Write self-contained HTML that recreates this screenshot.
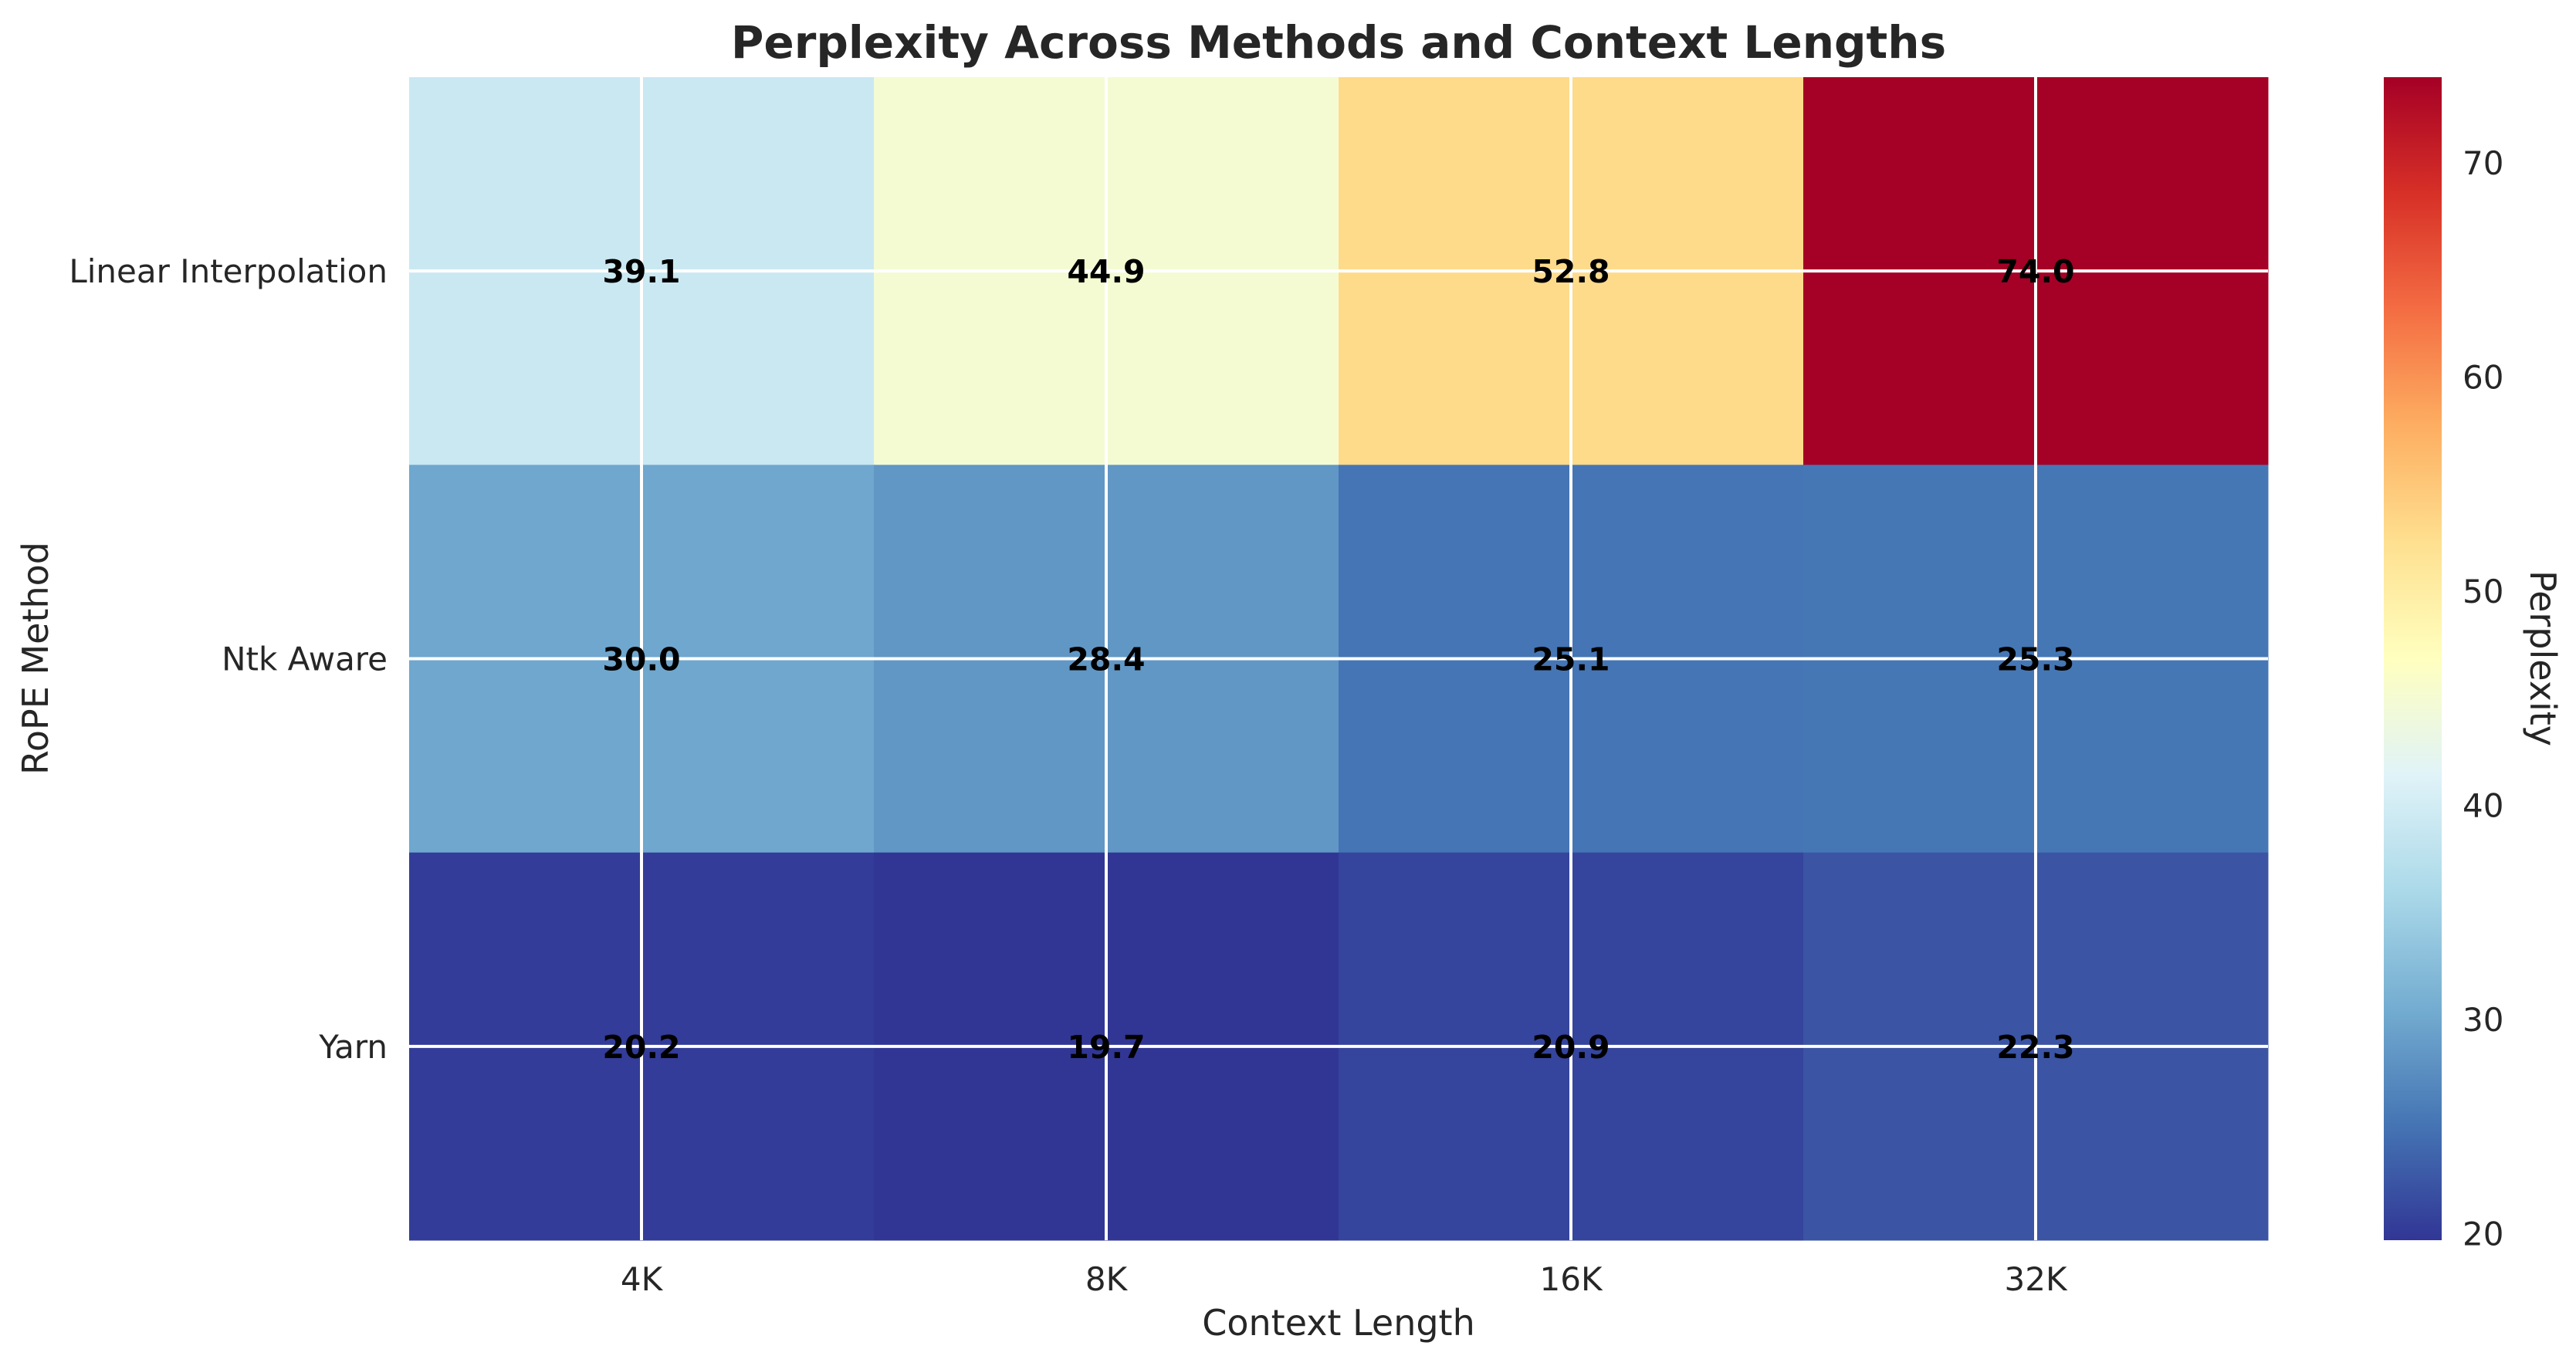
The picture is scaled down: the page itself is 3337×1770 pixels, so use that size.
<!DOCTYPE html>
<html><head><meta charset="utf-8"><style>body{margin:0;background:#fff}svg{display:block}text{font-family:"DejaVu Sans","Liberation Sans",sans-serif}</style></head>
<body>
<svg id="chart" width="3337" height="1770" viewBox="0 0 3337 1770" xmlns="http://www.w3.org/2000/svg">
<defs><linearGradient id="cbgrad" x1="0" y1="1" x2="0" y2="0"></linearGradient></defs>
<text x="1734" y="75" text-anchor="middle" font-size="58" font-weight="bold" fill="#262626">Perplexity Across Methods and Context Lengths</text>
<g id="cells"></g><g id="grid"></g><g id="vals"></g><g id="ticks"></g>
<text x="1734" y="1730" text-anchor="middle" font-size="46" fill="#262626">Context Length</text>
<text transform="translate(62,853) rotate(-90)" text-anchor="middle" font-size="46" fill="#262626">RoPE Method</text>
<rect x="3088" y="100" width="75" height="1507" fill="url(#cbgrad)"/>
<g id="cbticks"></g>
<text transform="translate(3278,853) rotate(90)" text-anchor="middle" font-size="46" fill="#262626">Perplexity</text>
</svg>
<script>
const categories = ["4K","8K","16K","32K"];
const methods = ["Linear Interpolation","Ntk Aware","Yarn"];
const linearVals = [39.1,44.9,52.8,74.0];
const ntkVals = [30.0,28.4,25.1,25.3];
const yarnVals = [20.2,19.7,20.9,22.3];
const cbTicks = [20,30,40,50,60,70];
const NS="http://www.w3.org/2000/svg";
const rows=[linearVals,ntkVals,yarnVals];
const all=rows.flat();
const vmin=Math.min(...all), vmax=Math.max(...all);
const L=530,R=2938,T=100,B=1607;
const cw=(R-L)/categories.length, rh=(B-T)/methods.length;
const xC=i=>L+cw*(i+0.5), yC=j=>T+rh*(j+0.5);
const stops=["#313695","#4575b4","#74add1","#abd9e9","#e0f3f8","#ffffbf","#fee090","#fdae61","#f46d43","#d73027","#a50026"];
function hex(h){return [1,3,5].map(k=>parseInt(h.substr(k,2),16));}
function cmap(v){let t=(v-vmin)/(vmax-vmin);t=Math.max(0,Math.min(1,t));const p=t*(stops.length-1);const i=Math.min(Math.floor(p),stops.length-2);const f=p-i;const a=hex(stops[i]),b=hex(stops[i+1]);return `rgb(${a.map((c,k)=>Math.round(c+(b[k]-c)*f)).join(",")})`;}
function mk(tag,attrs,parent,txt){const e=document.createElementNS(NS,tag);for(const k in attrs)e.setAttribute(k,attrs[k]);if(txt!==undefined)e.textContent=txt;document.getElementById(parent).appendChild(e);return e;}
const g=document.getElementById('cbgrad');
stops.forEach((s,i)=>{const st=document.createElementNS(NS,'stop');st.setAttribute('offset',i/(stops.length-1));st.setAttribute('stop-color',s);g.appendChild(st);});
rows.forEach((r,j)=>r.forEach((v,i)=>{
  const c=mk('rect',{x:L+cw*i,y:T+rh*j,width:cw+0.5,height:rh+0.5,fill:cmap(v)},'cells');
  
  
}));
categories.forEach((c,i)=>{
  const l=mk('line',{x1:xC(i),x2:xC(i),y1:T,y2:B,stroke:'#fff','stroke-width':4},'grid');
  
  
  const t=mk('text',{x:xC(i),y:1672,'text-anchor':'middle','font-size':42,fill:'#262626'},'ticks',c);
  
  
});
methods.forEach((m,j)=>{
  const l=mk('line',{x1:L,x2:R,y1:yC(j),y2:yC(j),stroke:'#fff','stroke-width':4},'grid');
  
  
  const t=mk('text',{x:502,y:yC(j)+15,'text-anchor':'end','font-size':42,fill:'#262626'},'ticks',m);
  
  
});
rows.forEach((r,j)=>r.forEach((v,i)=>{
  const t=mk('text',{x:xC(i),y:yC(j)+15,'text-anchor':'middle','font-size':41,'font-weight':'bold',fill:'#000'},'vals',v.toFixed(1));
  
  
}));
cbTicks.forEach(v=>{
  const y=B-(v-vmin)/(vmax-vmin)*(B-T);
  const t=mk('text',{x:3190,y:y+15,'font-size':42,fill:'#262626'},'cbticks',String(v));
  
  
});
</script>
</body></html>
